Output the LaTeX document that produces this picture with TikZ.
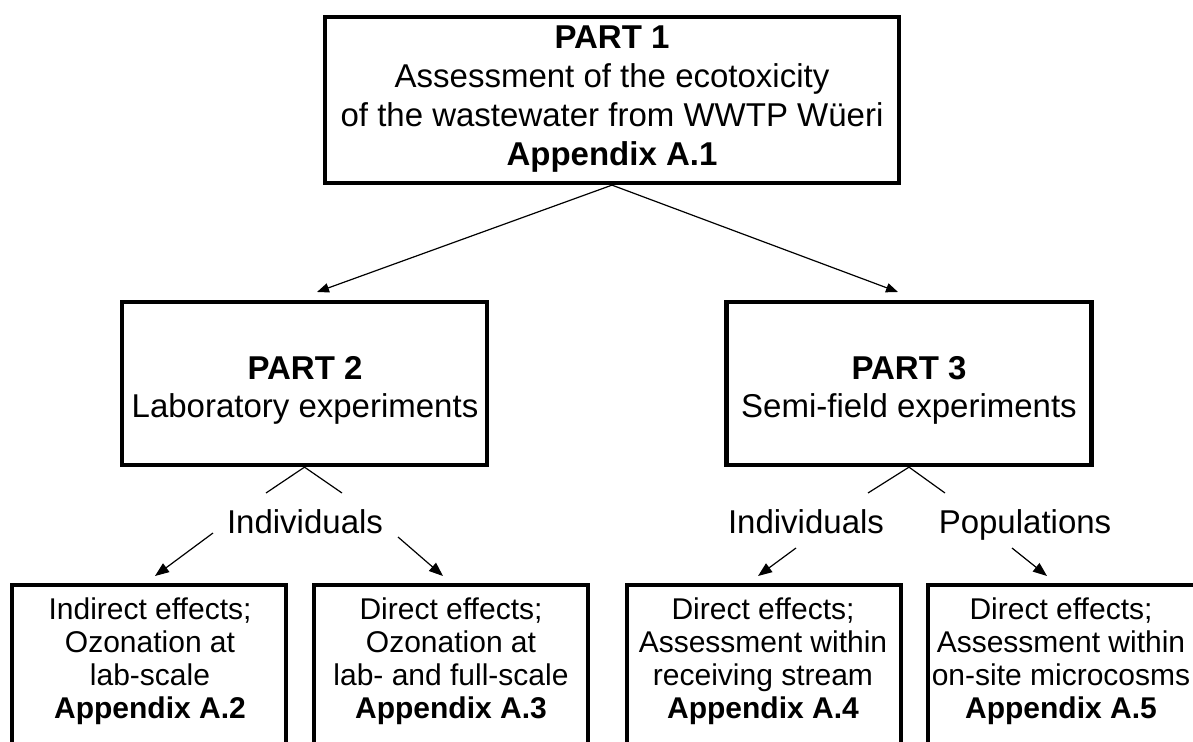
\documentclass[tikz,border=0pt]{standalone}
\usepackage{fontspec}
\setmainfont{Liberation Sans}
\usetikzlibrary{arrows.meta}
\begin{document}
\begin{tikzpicture}[x=0.75pt,y=-0.75pt,
  box/.style={draw=black, line width=3.2pt, rectangle, inner sep=0pt},
  big/.style={font=\fontsize{24.75}{29.25}\selectfont, align=center, inner sep=0pt},
  mid/.style={font=\fontsize{24.75}{28.5}\selectfont, align=center, inner sep=0pt},
  small/.style={font=\fontsize{22.5}{24.75}\selectfont, align=center, inner sep=0pt},
  conn/.style={line width=0.9pt},
  arr/.style={line width=0.9pt, -{Triangle[length=9pt,width=7pt]}},
  arrb/.style={line width=0.9pt, -{Triangle[length=10.5pt,width=8pt]}}]
\useasboundingbox (0,0) rectangle (1193,742);
\fill[white] (0,0) rectangle (1193,742);
\clip (0,0) rectangle (1193,742);

% top box
\node[box, minimum width=430.5pt, minimum height=124.5pt] (p1) at (612,100) {};
\node[big, anchor=north] (p1t) at (612,26) {\textbf{PART 1}\\Assessment of the ecotoxicity\\of the wastewater from WWTP Wüeri\\\textbf{Appendix A.1}};

% part 2 and 3
\node[box, minimum width=273.75pt, minimum height=122.25pt] (p2) at (304.5,383.5) {};
\node[mid, anchor=north] (p2t) at (305,356) {\textbf{PART 2}\\Laboratory experiments};
\node[box, minimum width=273.75pt, minimum height=122.25pt] (p3) at (909,383.5) {};
\node[mid, anchor=north] (p3t) at (909,356) {\textbf{PART 3}\\Semi-field experiments};

% labels
\node[big, anchor=base] (ind2) at (305,533) {Individuals};
\node[big, anchor=base] (ind3) at (806,533) {Individuals};
\node[big, anchor=base] (pop3) at (1025,533) {Populations};

% bottom boxes
\node[box, minimum width=205.5pt, minimum height=146.25pt] (b2) at (149,682.5) {};
\node[box, minimum width=205.5pt, minimum height=146.25pt] (b3) at (451,682.5) {};
\node[box, minimum width=205.5pt, minimum height=146.25pt] (b4) at (764,682.5) {};
\node[box, minimum width=205.5pt, minimum height=146.25pt] (b5) at (1065,682.5) {};
\node[small, anchor=north] (b2t) at (150,597) {Indirect effects;\\Ozonation at\\lab-scale\\\textbf{Appendix A.2}};
\node[small, anchor=north] (b3t) at (451,597) {Direct effects;\\Ozonation at\\lab- and full-scale\\\textbf{Appendix A.3}};
\node[small, anchor=north] (b4t) at (763,597) {Direct effects;\\Assessment within\\receiving stream\\\textbf{Appendix A.4}};
\node[small, anchor=north] (b5t) at (1061,597) {Direct effects;\\Assessment within\\on-site microcosms\\\textbf{Appendix A.5}};

% connector end points
\coordinate (t2) at (317,292);
\coordinate (t3) at (898,292);
\coordinate (l2a) at (266,493);
\coordinate (l2b) at (342,493);
\coordinate (l3a) at (868,493);
\coordinate (l3b) at (945,493);
\coordinate (s2a) at (213,533);
\coordinate (e2a) at (155,576);
\coordinate (s2b) at (398,537);
\coordinate (e2b) at (443,576);
\coordinate (s3a) at (796,548);
\coordinate (e3a) at (758,576);
\coordinate (s3b) at (1012,548);
\coordinate (e3b) at (1047,576);

% connectors
\draw[arr] (p1.south) -- (t2);
\draw[arr] (p1.south) -- (t3);
\draw[conn] (l2a) -- (p2.south) -- (l2b);
\draw[conn] (l3a) -- (p3.south) -- (l3b);
\draw[arrb] (s2a) -- (e2a);
\draw[arrb] (s2b) -- (e2b);
\draw[arrb] (s3a) -- (e3a);
\draw[arrb] (s3b) -- (e3b);
\end{tikzpicture}
\end{document}
